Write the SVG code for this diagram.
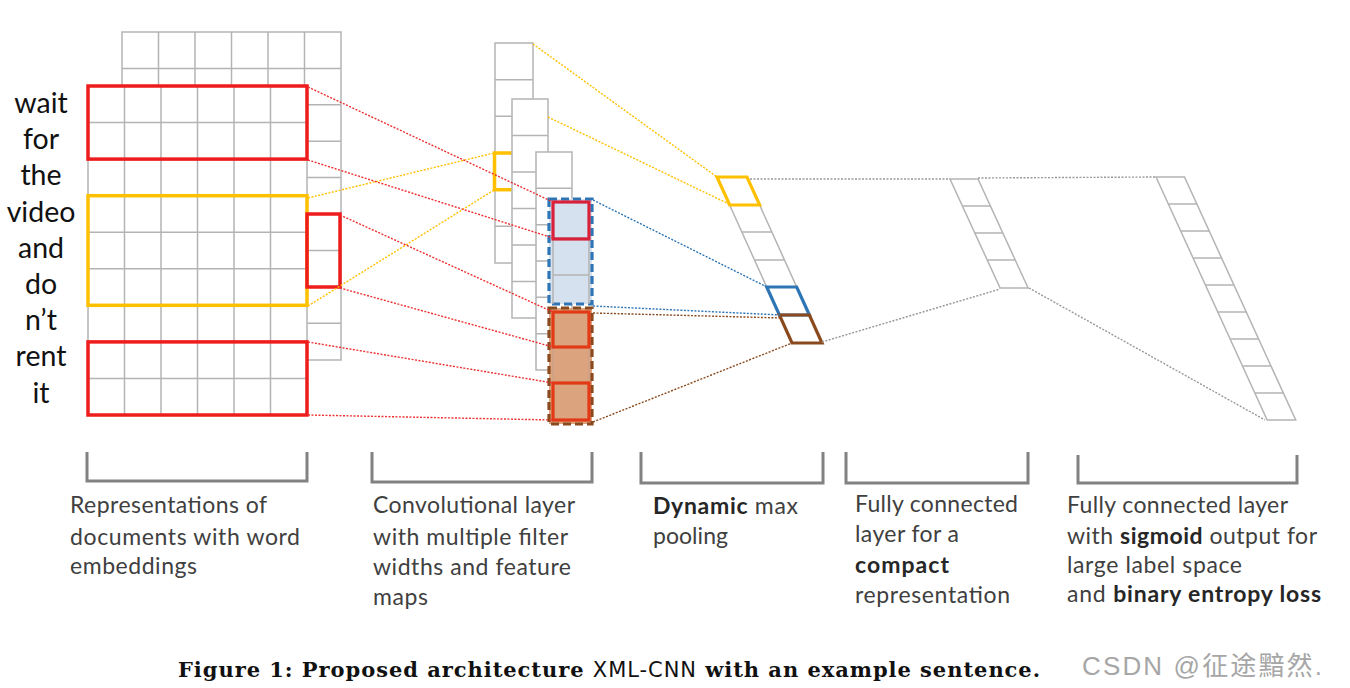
<svg xmlns="http://www.w3.org/2000/svg" width="1350" height="688" viewBox="0 0 1350 688">
<style>
.cell{fill:#fff;stroke:#b4b4b4;stroke-width:1.5}
.gl{fill:none;stroke:#b4b4b4;stroke-width:1.5}
.red{fill:none;stroke:#ee1c1c;stroke-width:3.5}
.yel{fill:none;stroke:#ffc000;stroke-width:3.5}
.dot{fill:none;stroke-width:1.4;stroke-dasharray:2 1.5}
.word{font-family:Lato,"Open Sans",sans-serif;font-size:28.5px;fill:#111;text-anchor:middle}
.lbl{font-family:Lato,"Open Sans",sans-serif;font-size:23px;fill:#404040}
.b{font-weight:bold;fill:#262626}
.brk{fill:none;stroke:#828282;stroke-width:3}
</style>
<rect width="1350" height="688" fill="#fff"/>

<g id="embedding">
  <rect class="cell" x="122" y="32" width="219" height="328"/>
  <path class="gl" d="M158.5 32V360M195 32V360M231.5 32V360M268 32V360M304.5 32V360M122 68.4H341M122 104.8H341M122 141.2H341M122 177.6H341M122 214H341M122 250.4H341M122 286.8H341M122 323.2H341"/>
  <rect class="cell" x="88" y="86" width="219" height="329"/>
  <path class="gl" d="M124.5 86V415M161 86V415M197.5 86V415M234 86V415M270.5 86V415M88 122.6H307M88 159.1H307M88 195.7H307M88 232.2H307M88 268.8H307M88 305.3H307M88 341.9H307M88 378.4H307"/>
  <rect class="red" x="88" y="86" width="219" height="73.1"/>
  <rect class="yel" x="88" y="195.7" width="219" height="109.6"/>
  <rect class="red" x="307" y="214" width="33" height="73"/>
  <rect class="red" x="88" y="341.9" width="219" height="73.1"/>
  <text class="word" x="41" y="113">wait</text>
  <text class="word" x="41" y="149">for</text>
  <text class="word" x="41" y="185.4">the</text>
  <text class="word" x="41" y="221.6">video</text>
  <text class="word" x="41" y="257.8">and</text>
  <text class="word" x="41" y="294">do</text>
  <text class="word" x="41" y="330">n’t</text>
  <text class="word" x="41" y="366.4">rent</text>
  <text class="word" x="41" y="402.6">it</text>
</g>

<g id="conv">
  <rect class="cell" x="495" y="43" width="38" height="220"/>
  <path class="gl" d="M495 79.7H533M495 116.3H533M495 153H533M495 189.7H533M495 226.3H533"/>
  <rect class="yel" x="494.5" y="153" width="38" height="36.7"/>
  <rect class="cell" x="512" y="99" width="36" height="219"/>
  <path class="gl" d="M512 135.5H548M512 172H548M512 208.5H548M512 245H548M512 281.5H548"/>
  <rect class="cell" x="536" y="152" width="36" height="218"/>
  <path class="gl" d="M536 188.3H572M536 224.7H572M536 261H572M536 297.3H572M536 333.7H572"/>
  <rect x="549" y="199" width="43" height="105" fill="#d6e1ef" stroke="#2e75b6" stroke-width="3.2" stroke-dasharray="8 4"/>
  <path class="gl" d="M553 202V304M589 202V304M553 238H589M553 275H589"/>
  <rect x="553" y="202" width="36" height="37" fill="none" stroke="#d8203a" stroke-width="3.2"/>
  <rect x="549" y="308" width="43" height="116" fill="#dca47e" stroke="#8a4a1e" stroke-width="3.2" stroke-dasharray="8 4"/>
  <path d="M553 347V383M589 347V383" fill="none" stroke="#c9a089" stroke-width="1.2"/>
  <rect x="553" y="312" width="36" height="35" fill="none" stroke="#e23a16" stroke-width="3.2"/>
  <rect x="553" y="383" width="36" height="37" fill="none" stroke="#e23a16" stroke-width="3.2"/>
</g>

<g id="pooling">
  <polygon class="gl" points="717,177 747,177 822,343 792,343"/>
  <path class="gl" d="M729.7 205H759.7M741.9 232H771.9M754.5 260H784.5M766.7 287H796.7M779.4 315H809.4"/>
  <polygon points="717,177 747,177 759.7,205 729.7,205" fill="none" stroke="#ffc000" stroke-width="3.2"/>
  <polygon points="766.7,287 796.7,287 809.4,315 779.4,315" fill="none" stroke="#2e75b6" stroke-width="3.2"/>
  <polygon points="779.4,315 809.4,315 822,343 792,343" fill="none" stroke="#8a4a1e" stroke-width="3.2"/>
</g>

<g id="fc1">
  <polygon class="gl" points="950,179 978,179 1028.1,288 1000.1,288"/>
  <path class="gl" d="M962.4 206H990.4M974.8 233H1002.8M987.3 260H1015.3"/>
</g>

<g id="fc2">
  <polygon class="gl" points="1156,177 1184.5,177 1295.7,420 1267.2,420"/>
  <path class="gl" d="M1168.4 204H1196.9M1180.7 231H1209.2M1193.1 258H1221.6M1205.4 285H1233.9M1217.8 312H1246.3M1230.1 339H1258.6M1242.5 366H1271M1254.8 393H1283.3"/>
</g>

<g id="connectors">
  <path class="dot" stroke="#ffc000" d="M533 44L717 177M548 117L731 205M308 198L494 153M308 306L494 190"/>
  <path class="dot" stroke="#ee3030" d="M308 87L553 202M308 160L553 238M340 215L553 312M340 288L553 347M308 342L553 383M308 415L553 420"/>
  <path class="dot" stroke="#2e75b6" d="M593 200L767 287M593 306L781 315"/>
  <path class="dot" stroke="#8a4a1e" d="M593 313L782 318M593 422L792 343"/>
  <path class="dot" stroke="#999" d="M750 179L950 179M978 178L1156 177M822 342L1000 289M1029 288L1265 420"/>
</g>

<g id="labels">
  <path class="brk" d="M87 452V481H307V452"/>
  <path class="brk" d="M372 452V482H592V452"/>
  <path class="brk" d="M641 452V483H823V452"/>
  <path class="brk" d="M846 452V483H1028V452"/>
  <path class="brk" d="M1078 455V483H1297V455"/>
  <text class="lbl" x="70" y="513" textLength="197" lengthAdjust="spacing">Representations of</text>
  <text class="lbl" x="70" y="545" textLength="230" lengthAdjust="spacing">documents with word</text>
  <text class="lbl" x="70" y="574" textLength="127" lengthAdjust="spacing">embeddings</text>
  <text class="lbl" x="373" y="513" textLength="202" lengthAdjust="spacing">Convolutional layer</text>
  <text class="lbl" x="373" y="545" textLength="195" lengthAdjust="spacing">with multiple filter</text>
  <text class="lbl" x="373" y="575" textLength="198" lengthAdjust="spacing">widths and feature</text>
  <text class="lbl" x="373" y="605" textLength="55" lengthAdjust="spacing">maps</text>
  <text class="lbl" x="653" y="514" textLength="145" lengthAdjust="spacing"><tspan class="b">Dynamic</tspan> max</text>
  <text class="lbl" x="653" y="544" textLength="75" lengthAdjust="spacing">pooling</text>
  <text class="lbl" x="855" y="512" textLength="163" lengthAdjust="spacing">Fully connected</text>
  <text class="lbl" x="855" y="542" textLength="104" lengthAdjust="spacing">layer for a</text>
  <text class="lbl b" x="855" y="573" textLength="94" lengthAdjust="spacing">compact</text>
  <text class="lbl" x="855" y="603" textLength="155" lengthAdjust="spacing">representation</text>
  <text class="lbl" x="1067" y="513" textLength="221" lengthAdjust="spacing">Fully connected layer</text>
  <text class="lbl" x="1067" y="544" textLength="250" lengthAdjust="spacing">with <tspan class="b">sigmoid</tspan> output for</text>
  <text class="lbl" x="1067" y="573" textLength="175" lengthAdjust="spacing">large label space</text>
  <text class="lbl" x="1067" y="602" textLength="254" lengthAdjust="spacing">and <tspan class="b">binary entropy loss</tspan></text>
</g>

<g id="caption">
  <text x="178" y="677" font-family="'DejaVu Serif',serif" font-weight="bold" font-size="21" fill="#111" textLength="862" lengthAdjust="spacing">Figure 1: Proposed architecture <tspan font-family="'DejaVu Sans',sans-serif" font-weight="normal">XML-CNN</tspan> with an example sentence.</text>
  <text x="1082" y="675" font-family="'Liberation Sans','Noto Sans CJK SC',sans-serif" font-size="26" fill="#a6a6a6" textLength="240" lengthAdjust="spacing">CSDN @征途黯然.</text>
</g>
</svg>
